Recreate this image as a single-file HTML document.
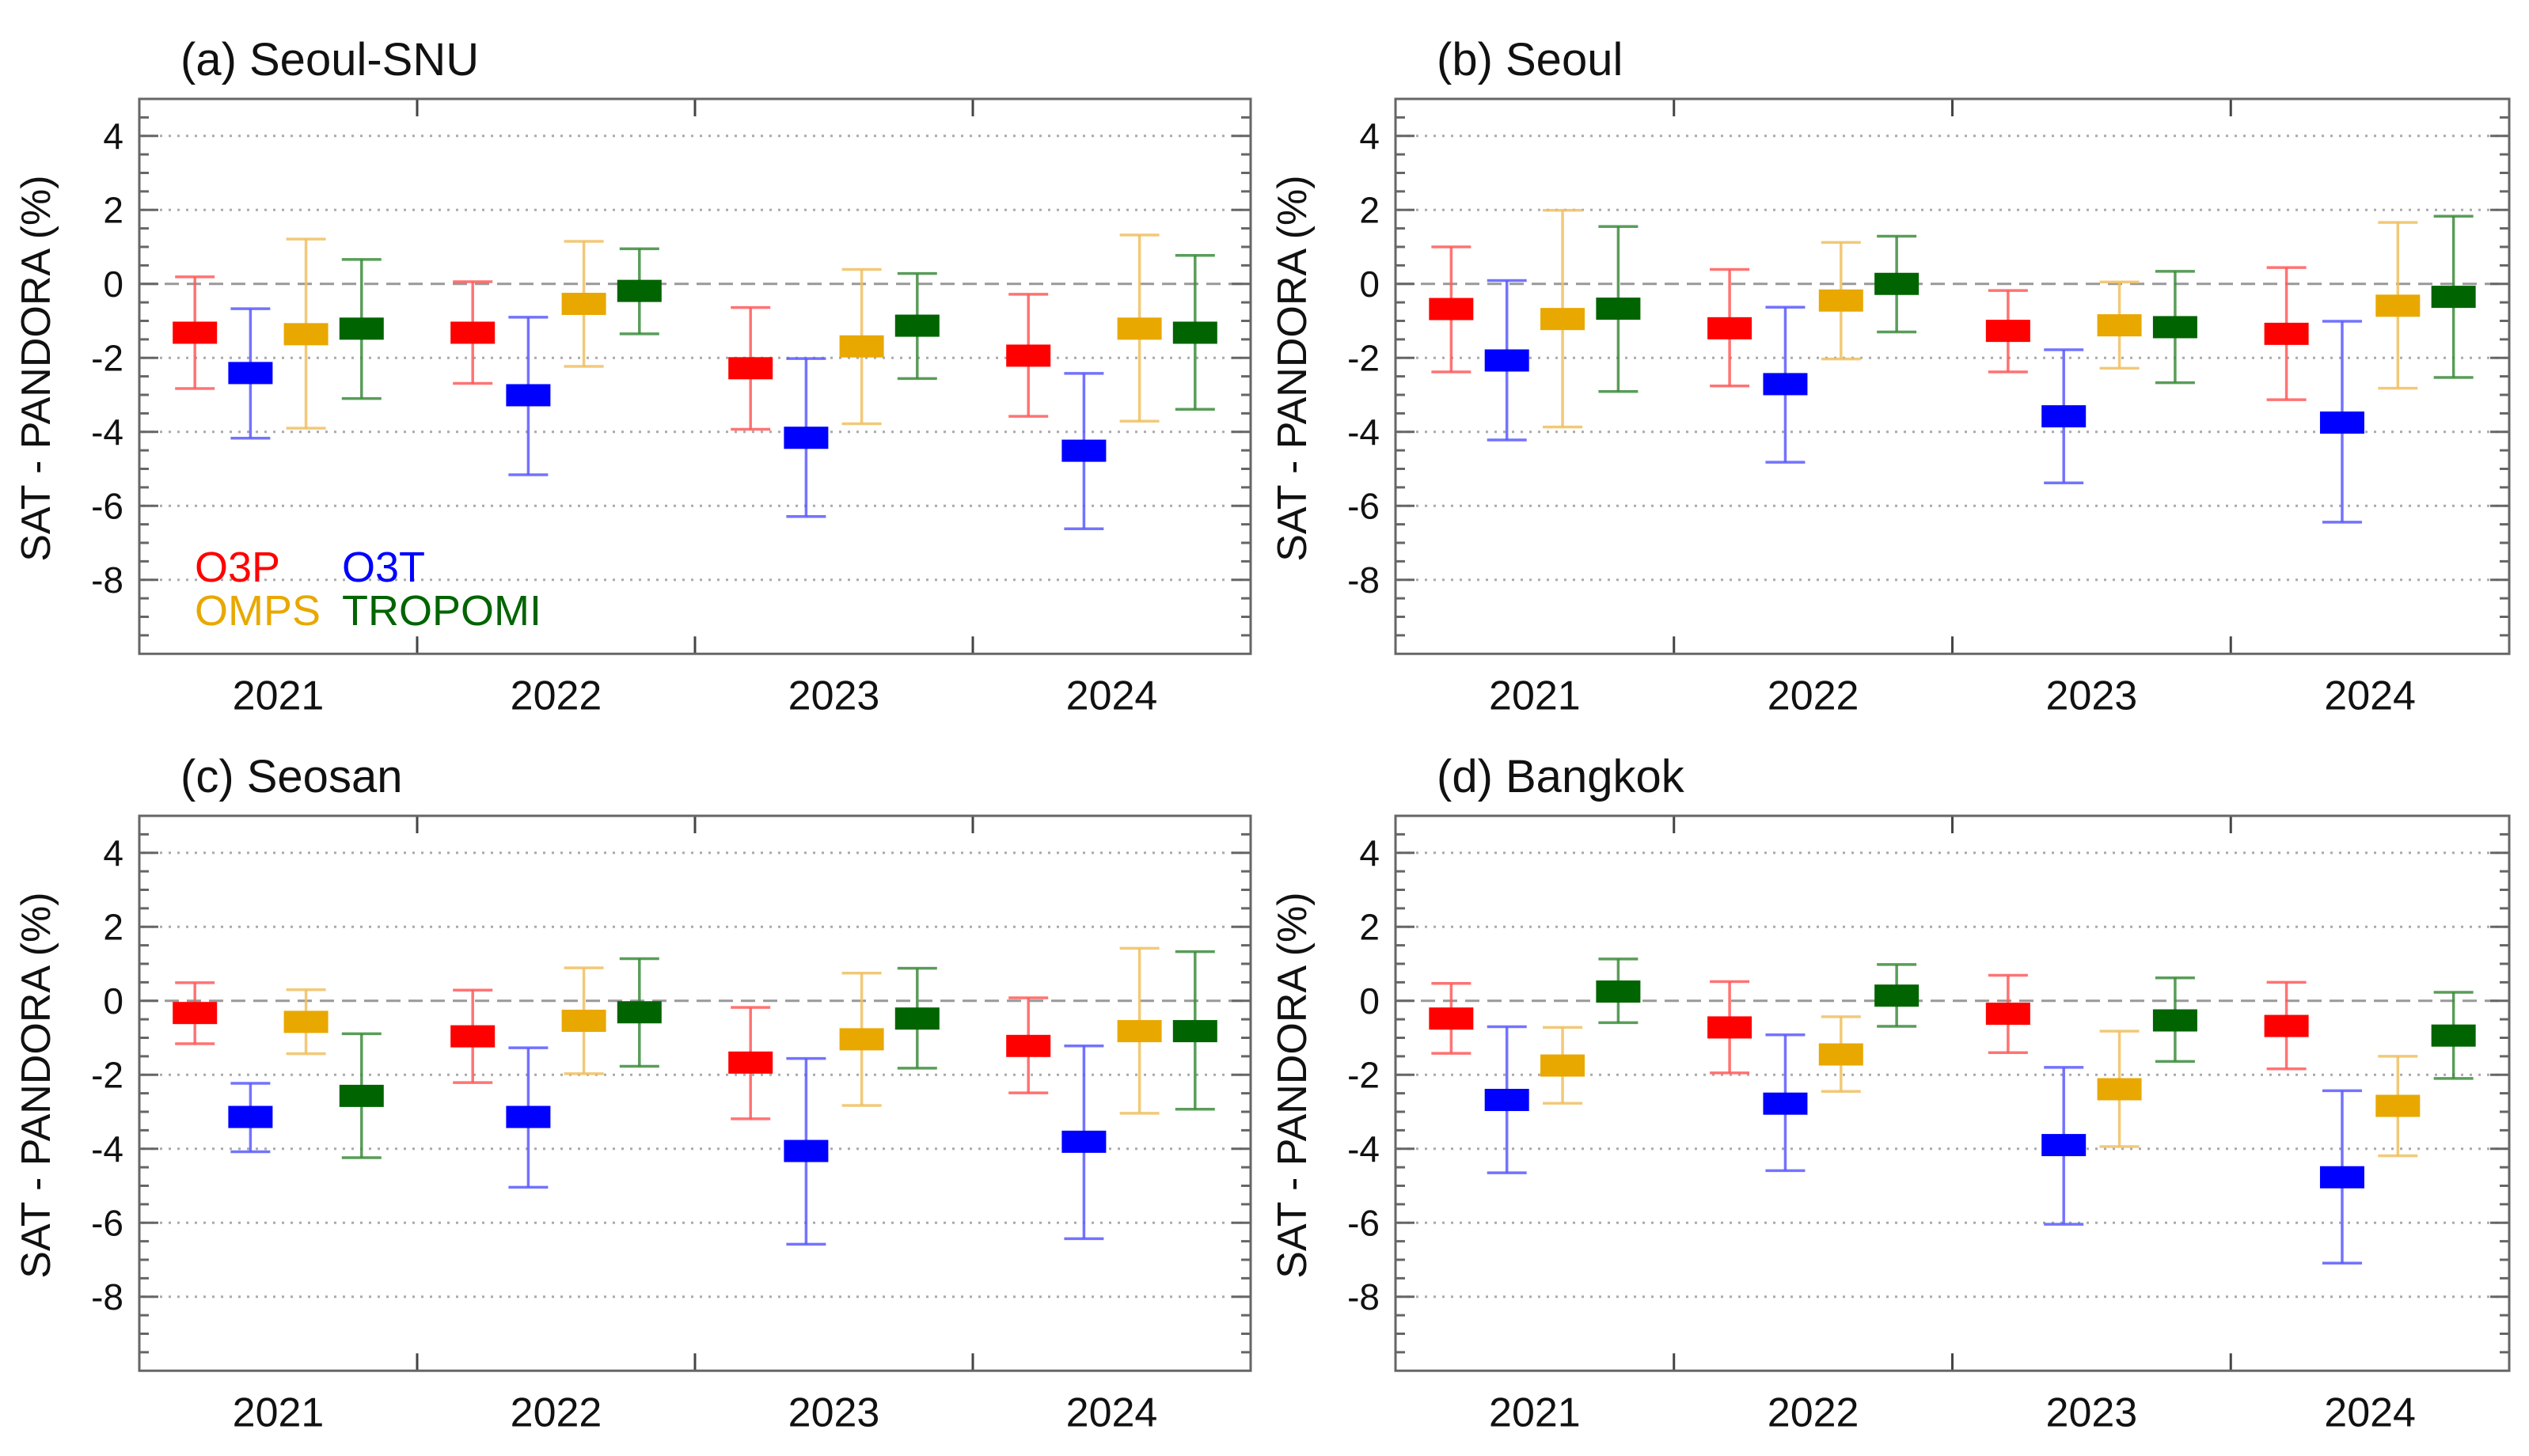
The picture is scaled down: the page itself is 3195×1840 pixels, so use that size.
<!DOCTYPE html>
<html><head><meta charset="utf-8">
<style>
html,body{margin:0;padding:0;background:#fff;}
svg{display:block;font-family:"Liberation Sans",sans-serif;}
</style></head>
<body>
<svg id="fig" width="3195" height="1840" viewBox="0 0 3195 1840" xmlns="http://www.w3.org/2000/svg"></svg>
<script>
const years = ["2021","2022","2023","2024"];
const products = ["O3P","O3T","OMPS","TROPOMI"];
const yTicks = [4,2,0,-2,-4,-6,-8];
// mean, upper, lower per product per year
const aMean = [[-1.32,-1.32,-2.28,-1.94],[-2.41,-3.01,-4.16,-4.51],[-1.36,-0.54,-1.69,-1.21],[-1.21,-0.19,-1.13,-1.32]];
const aHi   = [[0.19,0.06,-0.64,-0.28],[-0.67,-0.9,-2.02,-2.42],[1.21,1.15,0.39,1.32],[0.66,0.95,0.28,0.77]];
const aLo   = [[-2.83,-2.69,-3.93,-3.58],[-4.17,-5.16,-6.29,-6.62],[-3.9,-2.23,-3.78,-3.71],[-3.1,-1.35,-2.56,-3.39]];
const bMean = [[-0.68,-1.2,-1.27,-1.35],[-2.07,-2.71,-3.58,-3.75],[-0.95,-0.45,-1.12,-0.59],[-0.67,0.0,-1.17,-0.35]];
const bHi   = [[1.0,0.39,-0.18,0.44],[0.09,-0.63,-1.78,-1.01],[1.99,1.12,0.05,1.66],[1.55,1.29,0.34,1.83]];
const bLo   = [[-2.38,-2.76,-2.38,-3.13],[-4.22,-4.82,-5.38,-6.44],[-3.87,-2.03,-2.28,-2.82],[-2.91,-1.3,-2.67,-2.53]];
const cMean = [[-0.33,-0.96,-1.67,-1.22],[-3.14,-3.14,-4.06,-3.81],[-0.57,-0.54,-1.04,-0.82],[-2.57,-0.31,-0.48,-0.82]];
const cHi   = [[0.49,0.29,-0.18,0.08],[-2.23,-1.27,-1.56,-1.22],[0.3,0.89,0.75,1.42],[-0.89,1.14,0.88,1.33]];
const cLo   = [[-1.16,-2.21,-3.19,-2.49],[-4.08,-5.04,-6.58,-6.43],[-1.43,-1.97,-2.83,-3.04],[-4.24,-1.77,-1.82,-2.93]];
const dMean = [[-0.48,-0.72,-0.35,-0.68],[-2.68,-2.78,-3.9,-4.77],[-1.75,-1.45,-2.39,-2.84],[0.25,0.14,-0.53,-0.94]];
const dHi   = [[0.47,0.52,0.69,0.5],[-0.7,-0.92,-1.8,-2.43],[-0.72,-0.43,-0.82,-1.5],[1.13,0.98,0.62,0.23]];
const dLo   = [[-1.42,-1.95,-1.4,-1.84],[-4.65,-4.59,-6.04,-7.09],[-2.77,-2.45,-3.94,-4.19],[-0.59,-0.69,-1.64,-2.1]];

const boxCol = ["#ff0000","#0000ff","#e8a800","#006400"];
const barCol = ["#ff5a5a","#5a5aff","#f0c060","#3c8c3c"];
const NS="http://www.w3.org/2000/svg";
const svg=document.getElementById('fig');
function mk(tag,attrs,parent){const e=document.createElementNS(NS,tag);for(const k in attrs)e.setAttribute(k,attrs[k]);(parent||svg).appendChild(e);return e;}

const panels=[
 {id:"a",title:"(a) Seoul-SNU",L:176,R:1580,T:125,mean:aMean,hi:aHi,lo:aLo,legend:true},
 {id:"b",title:"(b) Seoul",L:1763,R:3170,T:125,mean:bMean,hi:bHi,lo:bLo},
 {id:"c",title:"(c) Seosan",L:176,R:1580,T:1031,mean:cMean,hi:cHi,lo:cLo},
 {id:"d",title:"(d) Bangkok",L:1763,R:3170,T:1031,mean:dMean,hi:dHi,lo:dLo}
];
const YMAX=5,YMIN=-10,UNIT=46.75;
panels.forEach(p=>{
  const g=mk('g',{});
  
  
  const yS=v=>p.T+(YMAX-v)*UNIT;
  const B=yS(YMIN);
  const gw=(p.R-p.L)/years.length;
  const xS=(yi,pi)=>p.L+gw*yi+gw*(pi+1)/5;
  // gridlines
  yTicks.forEach(t=>{
    const ln=mk('line',{x1:p.L+4,x2:p.R-4,y1:yS(t),y2:yS(t),stroke:t===0?"#999":"#aaa","stroke-width":t===0?3:3,"stroke-dasharray":t===0?"18,10":"3,8"},g);
    
    
  });
  // minor/major ticks left & right
  for(let v=YMIN+0.5;v<YMAX;v+=0.5){
    const major=Math.abs(v%2)<1e-6;
    const len=major?24:12;
    mk('line',{x1:p.L,x2:p.L+len,y1:yS(v),y2:yS(v),stroke:"#666","stroke-width":3},g);
    mk('line',{x1:p.R-len,x2:p.R,y1:yS(v),y2:yS(v),stroke:"#666","stroke-width":3},g);
  }
  // x dividers ticks
  for(let i=1;i<years.length;i++){
    const x=p.L+gw*i;
    mk('line',{x1:x,x2:x,y1:p.T,y2:p.T+22,stroke:"#444","stroke-width":3},g);
    mk('line',{x1:x,x2:x,y1:B,y2:B-22,stroke:"#444","stroke-width":3},g);
  }
  // frame
  const fr=mk('rect',{x:p.L,y:p.T,width:p.R-p.L,height:B-p.T,fill:"none",stroke:"#666","stroke-width":3},g);
  
  
  // y tick labels
  yTicks.forEach(t=>{
    const tx=mk('text',{x:p.L-20,y:yS(t)+16,"text-anchor":"end","font-size":46,fill:"#111"},g);
    tx.textContent=t;
    
    
  });
  // year labels
  years.forEach((yr,i)=>{
    const tx=mk('text',{x:p.L+gw*(i+0.5),y:B+70,"text-anchor":"middle","font-size":52,fill:"#111"},g);
    tx.textContent=yr;
    
    
  });
  // y axis title
  const cy=(p.T+B)/2-10;
  const yt=mk('text',{x:0,y:0,transform:`translate(${p.L-113},${cy}) rotate(-90)`,"text-anchor":"middle","font-size":52,fill:"#111"},g);
  yt.textContent="SAT - PANDORA (%)";
  
  
  // title
  const tt=mk('text',{x:p.L+52,y:p.T-30,"font-size":58,fill:"#111"},g);
  tt.textContent=p.title;
  
  
  // series
  products.forEach((pr,pi)=>{
    years.forEach((yr,yi)=>{
      const x=xS(yi,pi);
      const hi=yS(p.hi[pi][yi]), lo=yS(p.lo[pi][yi]), m=yS(p.mean[pi][yi]);
      const eb=mk('g',{stroke:barCol[pi],"stroke-width":3.5,"stroke-opacity":0.85},g);
      
      
      mk('line',{x1:x,x2:x,y1:hi,y2:lo},eb);
      mk('line',{x1:x-25,x2:x+25,y1:hi,y2:hi},eb);
      mk('line',{x1:x-25,x2:x+25,y1:lo,y2:lo},eb);
      const bx=mk('rect',{x:x-28,y:m-14,width:56,height:28,fill:boxCol[pi]},g);
      
      
    });
  });
  if(p.legend){
    const lg=mk('g',{"font-size":54},g);
    
    
    const ent=[["O3P",246,735,0],["O3T",432,735,1],["OMPS",246,790,2],["TROPOMI",432,790,3]];
    ent.forEach(e=>{
      const t=mk('text',{x:e[1],y:e[2],fill:boxCol[e[3]]},lg);
      t.textContent=e[0];
      
      
    });
  }
});
</script>
</body></html>
